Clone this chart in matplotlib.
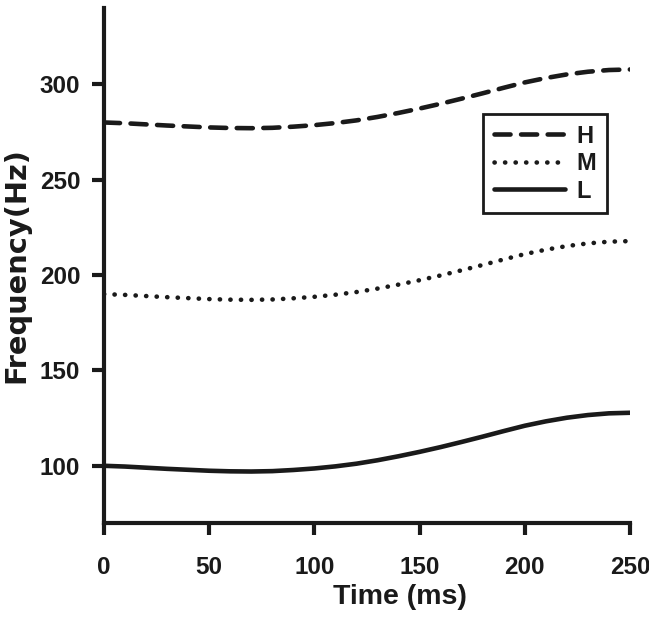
import numpy as np
import matplotlib
matplotlib.use('Agg')
import matplotlib.pyplot as plt

plt.rcParams['font.family'] = ['Liberation Sans', 'DejaVu Sans']
plt.rcParams['font.weight'] = 'bold'

# Datos (ms, Hz)
tiempo = [0, 10, 20, 30, 40, 50, 60, 70, 80, 90, 100, 110, 120, 130, 140,
          150, 160, 170, 180, 190, 200, 210, 220, 230, 240, 250]
frec_H = [280.0, 279.6, 279.0, 278.4, 277.9, 277.4, 277.1, 277.0, 277.2, 277.8,
          278.6, 279.7, 281.1, 282.9, 285.0, 287.3, 289.8, 292.5, 295.3, 298.2,
          301.0, 303.3, 305.2, 306.6, 307.5, 307.8]
frec_M = [190.0, 189.6, 189.0, 188.4, 187.9, 187.4, 187.1, 187.0, 187.2, 187.8,
          188.6, 189.7, 191.1, 192.9, 195.0, 197.3, 199.8, 202.5, 205.3, 208.2,
          211.0, 213.3, 215.2, 216.6, 217.5, 217.8]
frec_L = [100.0, 99.6, 99.0, 98.4, 97.9, 97.4, 97.1, 97.0, 97.2, 97.8,
          98.6, 99.7, 101.1, 102.9, 105.0, 107.3, 109.8, 112.5, 115.3, 118.2,
          121.0, 123.3, 125.2, 126.6, 127.5, 127.8]
xticks = [0, 50, 100, 150, 200, 250]
yticks = [100, 150, 200, 250, 300]

fig = plt.figure(figsize=(6.49, 6.23), dpi=100)
ax = fig.add_axes([0.1602, 0.1605, 0.8105, 0.8266])

lw = 3.3
ax.plot(tiempo, frec_H, color='#1a1a1a', lw=lw, dashes=(3.5, 2.3),
        dash_capstyle='round', label='H')
ax.plot(tiempo, frec_M, color='#1a1a1a', lw=lw, dashes=(0.05, 2.25),
        dash_capstyle='round', label='M')
ax.plot(tiempo, frec_L, color='#1a1a1a', lw=lw, solid_capstyle='round', label='L')

ax.set_xlim(0, 250)
ax.set_ylim(70, 340)
ax.set_xticks(xticks)
ax.set_yticks(yticks)

for s in ['top', 'right']:
    ax.spines[s].set_visible(False)
for s in ['left', 'bottom']:
    ax.spines[s].set_linewidth(3)
    ax.spines[s].set_color('#1a1a1a')

ax.tick_params(axis='both', direction='out', length=8.6, width=3,
               color='#1a1a1a', labelsize=17.5, labelcolor='#1a1a1a')
ax.tick_params(axis='x', pad=15)
ax.tick_params(axis='y', pad=8.5)

ax.set_xlabel('Time (ms)', fontsize=20.5, fontweight='bold', color='#1a1a1a',
              labelpad=4, x=0.563)
ax.set_ylabel('Frequency(Hz)', fontsize=20.8, fontweight='bold', color='#1a1a1a',
              family='DejaVu Sans', labelpad=7)

leg = ax.legend(loc='upper right', bbox_to_anchor=(0.956, 0.794), borderaxespad=0,
                fancybox=False, edgecolor='#1a1a1a', framealpha=1,
                fontsize=17, handlelength=3.0, handletextpad=0.5,
                labelspacing=0.19, borderpad=0.45)
leg.get_frame().set_linewidth(2)
for t in leg.get_texts():
    t.set_color('#1a1a1a')

fig.savefig('out.png', dpi=100)
